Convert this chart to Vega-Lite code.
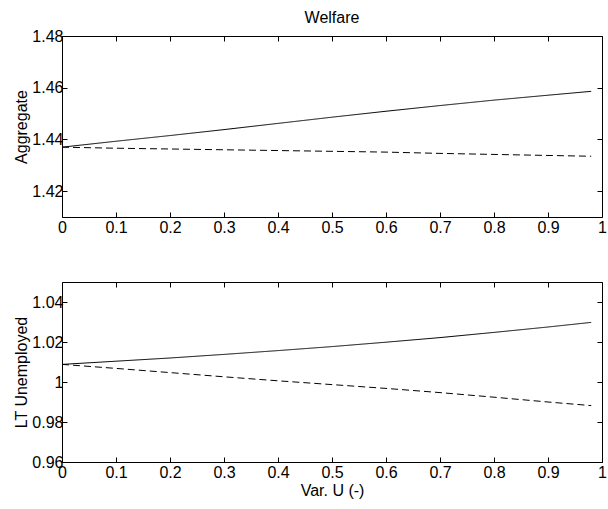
{
  "$schema": "https://vega.github.io/schema/vega-lite/v6.json",
  "background": "white",
  "padding": {"left": 13, "top": 9, "right": 5, "bottom": 5},
  "config": {
    "font": "Liberation Sans",
    "view": {"stroke": "black", "strokeWidth": 1},
    "axis": {
      "domain": false,
      "grid": false,
      "ticks": true,
      "tickColor": "black",
      "tickSize": -5,
      "tickWidth": 1,
      "labelColor": "black",
      "labelFontSize": 16,
      "labelFont": "Liberation Sans",
      "titleFont": "Liberation Sans",
      "titleFontSize": 16,
      "titleFontWeight": "normal",
      "titleColor": "black",
      "labelPadding": 7,
      "labelFlush": false,
      "labelOverlap": false
    },
    "title": {"font": "Liberation Sans", "fontSize": 16, "fontWeight": "normal", "color": "black"}
  },
  "datasets": {
    "top": [
      {"x": 0, "y": 1.437, "s": "solid"},
      {"x": 0.1, "y": 1.4393, "s": "solid"},
      {"x": 0.2, "y": 1.4415, "s": "solid"},
      {"x": 0.3, "y": 1.4438, "s": "solid"},
      {"x": 0.4, "y": 1.4462, "s": "solid"},
      {"x": 0.5, "y": 1.4486, "s": "solid"},
      {"x": 0.6, "y": 1.4509, "s": "solid"},
      {"x": 0.7, "y": 1.4531, "s": "solid"},
      {"x": 0.8, "y": 1.4552, "s": "solid"},
      {"x": 0.9, "y": 1.4571, "s": "solid"},
      {"x": 0.98, "y": 1.4586, "s": "solid"},
      {"x": 0, "y": 1.437, "s": "dashed"},
      {"x": 0.1, "y": 1.4366, "s": "dashed"},
      {"x": 0.2, "y": 1.4363, "s": "dashed"},
      {"x": 0.3, "y": 1.436, "s": "dashed"},
      {"x": 0.4, "y": 1.4357, "s": "dashed"},
      {"x": 0.5, "y": 1.4354, "s": "dashed"},
      {"x": 0.6, "y": 1.4351, "s": "dashed"},
      {"x": 0.7, "y": 1.4346, "s": "dashed"},
      {"x": 0.8, "y": 1.4342, "s": "dashed"},
      {"x": 0.9, "y": 1.4338, "s": "dashed"},
      {"x": 0.98, "y": 1.4335, "s": "dashed"}
    ],
    "bottom": [
      {"x": 0, "y": 1.0088, "s": "solid"},
      {"x": 0.1, "y": 1.0104, "s": "solid"},
      {"x": 0.2, "y": 1.012, "s": "solid"},
      {"x": 0.3, "y": 1.0138, "s": "solid"},
      {"x": 0.4, "y": 1.0157, "s": "solid"},
      {"x": 0.5, "y": 1.0177, "s": "solid"},
      {"x": 0.6, "y": 1.0199, "s": "solid"},
      {"x": 0.7, "y": 1.0222, "s": "solid"},
      {"x": 0.8, "y": 1.0248, "s": "solid"},
      {"x": 0.9, "y": 1.0275, "s": "solid"},
      {"x": 0.98, "y": 1.0298, "s": "solid"},
      {"x": 0, "y": 1.0088, "s": "dashed"},
      {"x": 0.1, "y": 1.0068, "s": "dashed"},
      {"x": 0.2, "y": 1.0047, "s": "dashed"},
      {"x": 0.3, "y": 1.0026, "s": "dashed"},
      {"x": 0.4, "y": 1.0006, "s": "dashed"},
      {"x": 0.5, "y": 0.9987, "s": "dashed"},
      {"x": 0.6, "y": 0.9968, "s": "dashed"},
      {"x": 0.7, "y": 0.9947, "s": "dashed"},
      {"x": 0.8, "y": 0.9924, "s": "dashed"},
      {"x": 0.9, "y": 0.99, "s": "dashed"},
      {"x": 0.98, "y": 0.9882, "s": "dashed"}
    ]
  },
  "spacing": 45,
  "vconcat": [
    {
      "width": 540,
      "height": 181,
      "title": {"text": "Welfare", "anchor": "middle", "offset": 2},
      "data": {"name": "top"},
      "layer": [
        {
          "mark": {"type": "line", "color": "black", "strokeWidth": 1},
          "encoding": {
            "x": {"field": "x", "type": "quantitative", "scale": {"domain": [0, 1], "nice": false, "zero": false},
                  "axis": {"orient": "bottom", "values": [0, 0.1, 0.2, 0.3, 0.4, 0.5, 0.6, 0.7, 0.8, 0.9, 1], "labelExpr": "format(datum.value, '~g')", "title": null}},
            "y": {"field": "y", "type": "quantitative", "scale": {"domain": [1.41, 1.48], "nice": false, "zero": false},
                  "axis": {"orient": "left", "values": [1.42, 1.44, 1.46, 1.48], "labelExpr": "format(datum.value, '~g')", "labelPadding": 4, "title": "Aggregate", "titlePadding": 2}},
            "strokeDash": {"field": "s", "type": "nominal", "scale": {"domain": ["solid", "dashed"], "range": [[1, 0], [7, 4]]}, "legend": null}
          }
        },
        {
          "mark": {"type": "line", "strokeOpacity": 0},
          "encoding": {
            "x": {"field": "x", "type": "quantitative", "axis": {"orient": "top", "values": [0, 0.1, 0.2, 0.3, 0.4, 0.5, 0.6, 0.7, 0.8, 0.9, 1], "labels": false, "title": null}},
            "y": {"field": "y", "type": "quantitative", "axis": {"orient": "right", "values": [1.42, 1.44, 1.46, 1.48], "labels": false, "title": null}},
            "detail": {"field": "s"}
          }
        }
      ]
    },
    {
      "width": 540,
      "height": 180,
      "data": {"name": "bottom"},
      "layer": [
        {
          "mark": {"type": "line", "color": "black", "strokeWidth": 1},
          "encoding": {
            "x": {"field": "x", "type": "quantitative", "scale": {"domain": [0, 1], "nice": false, "zero": false},
                  "axis": {"orient": "bottom", "values": [0, 0.1, 0.2, 0.3, 0.4, 0.5, 0.6, 0.7, 0.8, 0.9, 1], "labelExpr": "format(datum.value, '~g')", "title": "Var. U (-)", "titlePadding": 2}},
            "y": {"field": "y", "type": "quantitative", "scale": {"domain": [0.96, 1.05], "nice": false, "zero": false},
                  "axis": {"orient": "left", "values": [0.96, 0.98, 1, 1.02, 1.04], "labelExpr": "format(datum.value, '~g')", "labelPadding": 4, "title": "LT Unemployed", "titlePadding": 2}},
            "strokeDash": {"field": "s", "type": "nominal", "scale": {"domain": ["solid", "dashed"], "range": [[1, 0], [7, 4]]}, "legend": null}
          }
        },
        {
          "mark": {"type": "line", "strokeOpacity": 0},
          "encoding": {
            "x": {"field": "x", "type": "quantitative", "axis": {"orient": "top", "values": [0, 0.1, 0.2, 0.3, 0.4, 0.5, 0.6, 0.7, 0.8, 0.9, 1], "labels": false, "title": null}},
            "y": {"field": "y", "type": "quantitative", "axis": {"orient": "right", "values": [0.96, 0.98, 1, 1.02, 1.04], "labels": false, "title": null}},
            "detail": {"field": "s"}
          }
        }
      ]
    }
  ]
}
